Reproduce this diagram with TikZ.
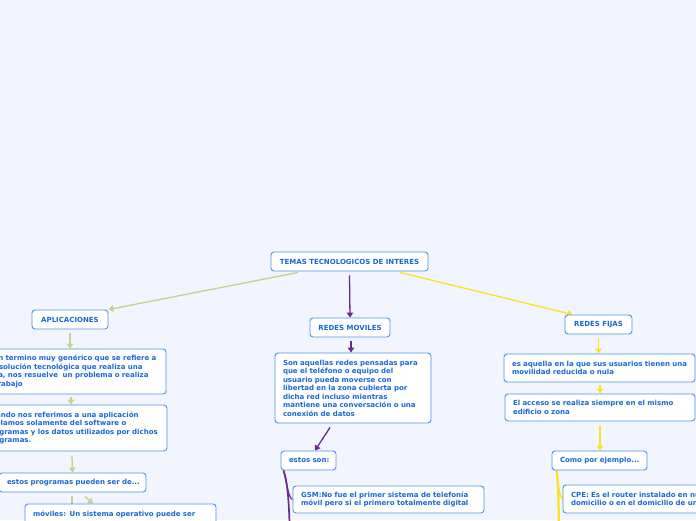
\documentclass[tikz,border=0pt]{standalone}
\usepackage{fontspec}
\setmainfont{DejaVu Sans}
\usetikzlibrary{arrows.meta,calc}
\definecolor{bg}{HTML}{F2F5FD}
\definecolor{bd}{HTML}{4A93E6}
\definecolor{tx}{HTML}{1968D4}
\definecolor{gr}{HTML}{C3D28C}
\definecolor{pu}{HTML}{6B2A8E}
\definecolor{ye}{HTML}{FBE224}
\pgfdeclarelayer{bgl}
\pgfsetlayers{bgl,main}
\newcommand\ml[1]{\mbox{#1}}
\newcommand\mlb[1]{\mbox{\hspace*{4pt}#1}}
\tikzset{
  bx/.style={draw=bd, fill=white, rounded corners=3pt, line width=0.9pt,
    font=\fontsize{7}{8.5}\selectfont\bfseries, text=tx, inner sep=0pt},
  tb/.style={bx, align=left, inner xsep=8pt},
  arr/.style={-{Triangle[width=6.5pt,length=5pt]}, line width=1.3pt},
}
\begin{document}
\begin{tikzpicture}[x=1pt,y=-1pt]
\begin{pgfonlayer}{bgl}
\fill[bg] (0,0) rectangle (696,520);
\end{pgfonlayer}
\useasboundingbox (0,0) rectangle (696,520);

\node[bx,minimum width=157pt,minimum height=19pt] (root) at (349.5,261.5) {TEMAS TECNOLOGICOS DE INTERES};
\node[bx,minimum width=76pt,minimum height=19pt] (apl) at (70,319.5) {APLICACIONES};
\node[bx,minimum width=80pt,minimum height=19pt] (rm) at (350,327.5) {REDES MOVILES};
\node[bx,minimum width=67pt,minimum height=19pt] (rf) at (598.5,324.5) {REDES FIJAS};

\node[tb,text width=176pt,minimum height=45pt] (a1) at (70,371.5) {\ml{Es un termino muy genérico que se refiere a}\\\ml{una solución tecnológica que realiza una}\\\ml{tarea, nos resuelve \ un problema o realiza}\\\ml{un trabajo}};
\node[tb,text width=177pt,minimum height=46pt] (a2) at (70.5,428) {\mlb{Cuando nos referimos a una aplicación}\\\mlb{hablamos solamente del software o}\\\mlb{programas y los datos utilizados por dichos}\\\mlb{programas.}};
\node[tb,text width=131pt,minimum height=19pt] (a3) at (72.5,482.5) {\ml{estos programas pueden ser de...}};
\node[tb,text width=175pt,minimum height=20pt] (a4) at (120.5,514) {\ml{móviles: Un sistema operativo puede ser}};
\coordinate (a5) at (72,560);

\node[tb,text width=140pt,minimum height=70pt] (m1) at (353,388) {\ml{Son aquellas redes pensadas para}\\\ml{que el teléfono o equipo del}\\\ml{usuario pueda moverse con}\\\ml{libertad en la zona cubierta por}\\\ml{dicha red incluso mientras}\\\ml{mantiene una conversación o una}\\\ml{conexión de datos}};
\node[tb,text width=39pt,minimum height=19pt] (m2) at (308.5,460.5) {\ml{estos son:}};
\node[tb,text width=175pt,minimum height=27pt] (m3) at (388.5,499.5) {\ml{GSM:No fue el primer sistema de telefonía}\\\ml{móvil pero si el primero totalmente digital}};
\coordinate (m4) at (290,560);

\node[tb,text width=175pt,minimum height=28pt] (f1) at (599.5,368) {\ml{es aquella en la que sus usuarios tienen una}\\\ml{movilidad reducida o nula}};
\node[tb,text width=174pt,minimum height=27pt] (f2) at (600,407.5) {\ml{El acceso se realiza siempre en el mismo}\\\ml{edificio o zona}};
\node[tb,text width=79pt,minimum height=19pt] (f3) at (599.5,460.5) {\ml{Como por ejemplo...}};
\node[tb,text width=175pt,minimum height=28pt] (f4) at (658.5,499) {\ml{CPE: Es el router instalado en nuestro}\\\ml{domicilio o en el domicilio de un cliente}};
\coordinate (f5) at (559,560);

\begin{pgfonlayer}{bgl}
\draw[arr,gr] ([xshift=-51.5pt,yshift=-1pt]root.south) -- (apl.north east);
\draw[arr,pu] ([yshift=-4pt]root.south) -- (rm.north);
\draw[arr,ye] ([xshift=50.5pt,yshift=-1pt]root.south) -- ([xshift=8pt]rf.north west);

\draw[arr,gr] ([yshift=-4pt]apl.south) -- (a1.north);
\draw[arr,gr] ([xshift=1pt,yshift=-3pt]a1.south) -- ([xshift=0.5pt]a2.north);
\draw[arr,gr] ([xshift=1.5pt,yshift=-4pt]a2.south) -- (a3.north);
\draw[arr,gr] ([xshift=12.5pt,yshift=-4pt]a3.south) -- ([xshift=-27.5pt]a4.north);
\draw[gr,line width=1.3pt] ([xshift=-0.5pt,yshift=-4pt]a3.south) -- (a5);

\draw[arr,pu] ([xshift=1pt,yshift=-4pt]rm.south) -- ([xshift=-2pt]m1.north);
\draw[arr,pu] ([xshift=-23pt,yshift=-4pt]m1.south) -- ([xshift=6.5pt]m2.north);
\draw[pu,line width=1.7pt] ([xshift=3pt]m2.south west) .. controls (287,480) and (290,500) .. (m4);
\draw[pu,line width=1.2pt] ([xshift=3pt]m2.south west) .. controls (287,485) and (289,499) .. (m3.west);

\draw[arr,ye] ([yshift=-4pt]rf.south) -- ([xshift=-1pt]f1.north);
\draw[arr,ye] ([xshift=0.5pt,yshift=-3pt]f1.south) -- (f2.north);
\draw[arr,ye] ([yshift=-5pt]f2.south) -- ([xshift=0.5pt]f3.north);
\draw[ye,line width=2.3pt] ([xshift=5pt]f3.south west) .. controls (558,480) and (559,500) .. (f5);
\draw[ye,line width=1.4pt] ([xshift=5pt]f3.south west) .. controls (558,485) and (560,499) .. (f4.west);
\end{pgfonlayer}
\end{tikzpicture}
\end{document}
